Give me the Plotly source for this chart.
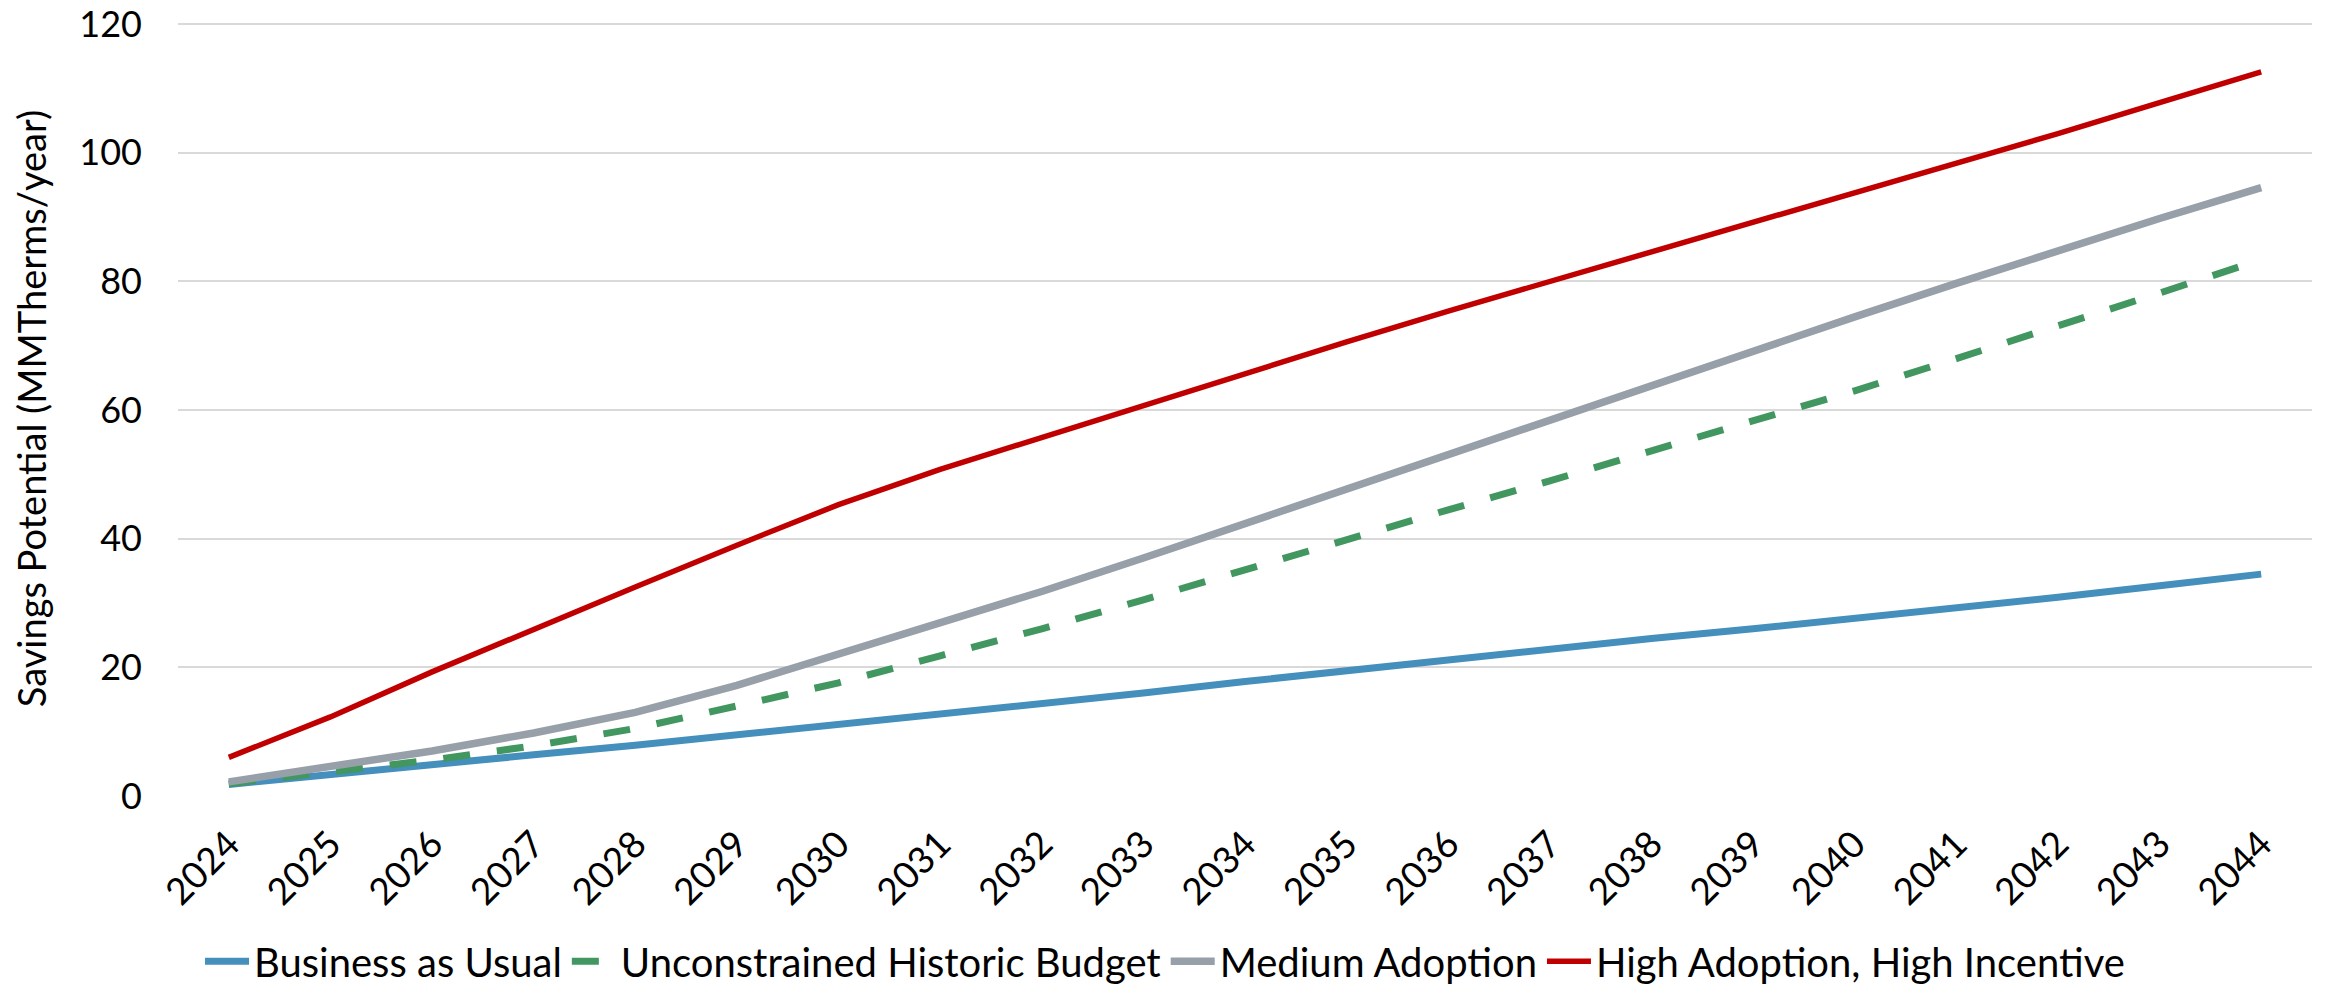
import plotly.graph_objects as go

years = [str(y) for y in range(2024, 2045)]

business_as_usual = [1.8, 3.4, 4.9, 6.4, 7.9, 9.5, 11.1, 12.7, 14.3, 16.0, 17.8,
                     19.5, 21.2, 22.9, 24.5, 26.0, 27.6, 29.2, 30.9, 32.7, 34.5]
unconstrained_historic = [1.9, 3.7, 5.6, 7.8, 10.5, 14.0, 17.6, 21.8, 26.0, 30.5, 35.2,
                          40.0, 44.5, 49.0, 53.6, 58.2, 63.0, 68.0, 73.0, 78.2, 83.4]
medium_adoption = [2.2, 4.6, 7.0, 9.8, 13.0, 17.2, 22.0, 26.8, 31.8, 37.0, 42.4,
                   47.8, 53.2, 58.6, 64.0, 69.2, 74.5, 79.7, 84.8, 89.8, 94.6]
high_adoption = [6.0, 12.3, 19.3, 26.0, 32.5, 39.0, 45.3, 50.8, 55.8, 60.8, 65.8,
                 70.6, 75.4, 80.0, 84.6, 89.1, 93.6, 98.3, 103.0, 107.8, 112.6]

series_names = ["Business as Usual", "Unconstrained Historic Budget",
                "Medium Adoption", "High Adoption, High Incentive"]

FONT = "Gill Sans MT, Gill Sans, Lato, sans-serif"

fig = go.Figure()
fig.add_trace(go.Scatter(x=years, y=business_as_usual, mode="lines", name=series_names[0],
                         line=dict(color="#448FBC", width=7)))
fig.add_trace(go.Scatter(x=years, y=unconstrained_historic, mode="lines", name=series_names[1],
                         line=dict(color="#41975F", width=7, dash="27px,27px")))
fig.add_trace(go.Scatter(x=years, y=medium_adoption, mode="lines", name=series_names[2],
                         line=dict(color="#979FA8", width=7.5)))
fig.add_trace(go.Scatter(x=years, y=high_adoption, mode="lines", name=series_names[3],
                         line=dict(color="#C00000", width=5.5)))

fig.update_layout(
    width=2328, height=993,
    margin=dict(l=170, r=24, t=13, b=205),
    paper_bgcolor="white", plot_bgcolor="white",
    font=dict(family=FONT, color="black", size=36),
    showlegend=True,
    legend=dict(orientation="h", x=0.497, xanchor="center", xref="container",
                y=0.040, yanchor="middle", yref="container",
                font=dict(size=40, family=FONT), itemwidth=44,
                bgcolor="rgba(0,0,0,0)"),
    xaxis=dict(type="category", range=[-0.5, len(years) - 0.5], tickangle=-45,
               showgrid=False, zeroline=False,
               showline=False, ticks="", tickfont=dict(size=37),
               ticklabelstandoff=18, automargin=False),
    yaxis=dict(range=[0, 120.5], tickvals=[0, 20, 40, 60, 80, 100, 120],
               showgrid=True, gridcolor="#D9D9D9", gridwidth=2,
               zeroline=False, showline=False, ticks="", tickfont=dict(size=36),
               ticklabelstandoff=35, automargin=False, ticklabeloverflow="allow",
               title=dict(text="Savings Potential (MMTherms/year)", font=dict(size=38),
                          standoff=22)),
)

fig.write_html("out.html")
